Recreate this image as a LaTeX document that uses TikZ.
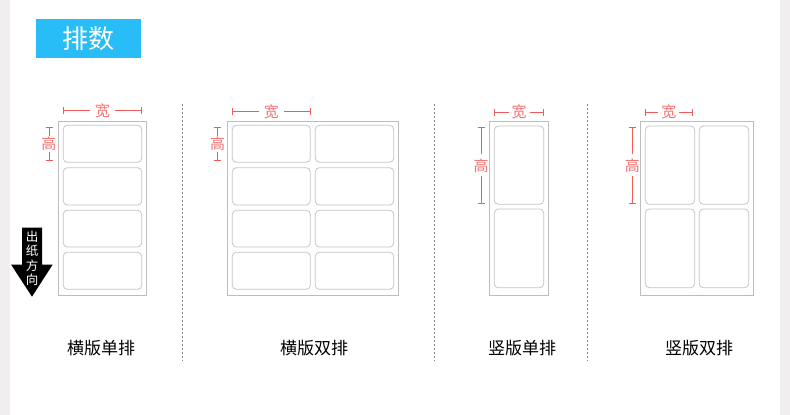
\documentclass[tikz,border=0pt]{standalone}
\usepackage{fontspec}
\newfontfamily\cjk{Noto Sans CJK SC}
\usetikzlibrary{arrows.meta}
\definecolor{stripgray}{HTML}{F0EEEF}
\definecolor{titleblue}{HTML}{29BDF7}
\definecolor{sheetgray}{HTML}{BDBDBD}
\definecolor{labelgray}{HTML}{C6C6C6}
\definecolor{dimred}{HTML}{F25A5A}
\definecolor{divgray}{HTML}{8A8A8A}
\begin{document}
\begin{tikzpicture}[x=1pt,y=-1pt,
  titlebox/.style={fill=titleblue,text=white,minimum width=105pt,minimum height=39pt,inner sep=0pt,font=\cjk\fontsize{26}{26}\selectfont},
  sheet/.style={draw=sheetgray,line width=0.9pt},
  lbl/.style={draw=labelgray,line width=0.8pt,rounded corners=4pt},
  dimline/.style={draw=dimred,line width=0.8pt,{Bar[width=7pt]}-{Bar[width=7pt]}},
  dimtext/.style={fill=white,text=dimred!85,inner xsep=5pt,inner ysep=1pt,font=\cjk\fontsize{15}{15}\selectfont},
  vdimtext/.style={fill=white,text=dimred!85,inner xsep=1pt,inner ysep=4pt,font=\cjk\fontsize{15}{15}\selectfont},
  divider/.style={draw=divgray,line width=0.6pt,dash pattern=on 2pt off 2pt},
  caption/.style={font=\cjk\fontsize{17}{17}\selectfont,text=black},
  outarrow/.style={fill=black}]
\useasboundingbox (0,0) rectangle (790,415);
\fill[stripgray] (0,0) rectangle (790,415);
\fill[white] (10,0) rectangle (780,415);

\node[titlebox] (title) at (88.5,38.5) {排数};

% dividers
\draw[divider] (182,104) -- (182,361);
\draw[divider] (434,104) -- (434,361);
\draw[divider] (587,104) -- (587,361);

% dimension marks (drawn first so the sheets stay on top)
\draw[dimline] (63.3,110.7) -- (141.7,110.7) node[dimtext,midway] (w1) {宽};
\draw[dimline] (49,127.3) -- (49,161) node[vdimtext,midway,inner ysep=1pt] (h1) {高};
\draw[dimline] (232.3,111.5) -- (310.3,111.5) node[dimtext,midway] (w2) {宽};
\draw[dimline] (217.7,127.3) -- (217.7,161) node[vdimtext,midway,inner ysep=1pt] (h2) {高};
\draw[dimline] (494.3,112.3) -- (543.7,112.3) node[dimtext,midway,inner xsep=3pt] (w3) {宽};
\draw[dimline] (481,127.3) -- (481,203.3) node[vdimtext,midway] (h3) {高};
\draw[dimline] (645.3,112.3) -- (692.3,112.3) node[dimtext,midway,inner xsep=3pt] (w4) {宽};
\draw[dimline] (632.3,127.3) -- (632.3,203.3) node[vdimtext,midway] (h4) {高};

% panel 1
\draw[sheet] (58.3,121.3) rectangle (146.7,295.3);
\foreach \a/\b in {125.3/162.3,167.7/205,210.3/247,252.3/289.3}
  \draw[lbl] (63.3,\a) rectangle (141.7,\b);
\fill[outarrow] (22,227.7) -- (42,227.7) -- (42,264.5) -- (52.7,264.5) -- (32,296.7) -- (11,264.5) -- (22,264.5) -- cycle;
\node[text=white,align=center,font=\cjk\fontsize{12.5}{14.5}\selectfont,inner sep=0pt] (out) at (32,258.5) {出\\纸\\方\\向};
\node[caption] (c1) at (101,348) {横版单排};

% panel 2
\draw[sheet] (227.3,121.3) rectangle (398.7,295.3);
\foreach \a/\b in {125.3/162.3,167.7/205,210.3/247,252.3/289.3}{
  \draw[lbl] (232.3,\a) rectangle (310.3,\b);
  \draw[lbl] (315.3,\a) rectangle (393.7,\b);}
\node[caption] (c2) at (314,348) {横版双排};

% panel 3
\draw[sheet] (489.3,121.3) rectangle (548.7,295.3);
\draw[lbl] (494.3,126) rectangle (543.7,204.3);
\draw[lbl] (494.3,209) rectangle (543.7,287.7);
\node[caption] (c3) at (522,348) {竖版单排};

% panel 4
\draw[sheet] (640.3,121.3) rectangle (753.7,295.3);
\foreach \a/\b in {126/204.3,209/287.7}{
  \draw[lbl] (645.3,\a) rectangle (694.7,\b);
  \draw[lbl] (699.3,\a) rectangle (748.7,\b);}
\node[caption] (c4) at (699,348) {竖版双排};
\end{tikzpicture}
\end{document}
